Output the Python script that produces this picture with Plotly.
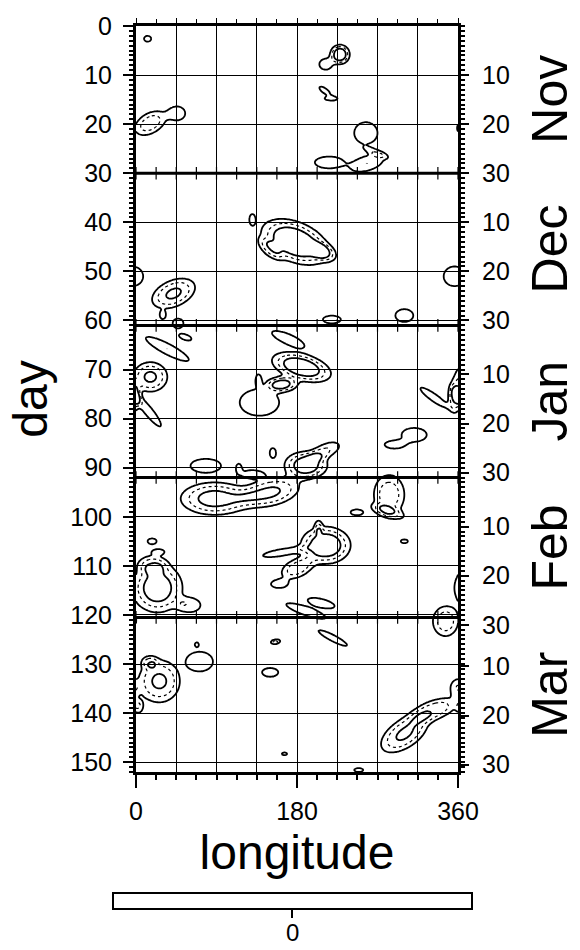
import numpy as np
import plotly.graph_objects as go

# ---- data ----
months = ["Nov", "Dec", "Jan", "Feb", "Mar"]
month_start = [0, 30, 61, 92, 120.5]      # day at which each month begins
day_end = 152
month_day_ticks = [10, 20, 30]
lon_ticks = [0, 180, 360]

# convective blobs: centre lon, centre day, half-extent lon, half-extent day, amplitude, tilt (days/deg)
blob_lon = [13, 16, 46, 228, 212, 211, 218, 257, 268, 216, 258,
            130, 178, 209, 150, 219, 356, 300, 42, 30, 47,
            55, 35, 16, 14, 357, 333, 170, 185, 163, 137, 138, 153, 190, 212, 78, 115, 130, 311, 289,
            88, 150, 283, 282, 247, 300, 212, 180, 162, 160, 204, 18, 25, 24, 60, 18, 190, 207, 346,
            71, 68, 26, 15, 3, 158, 150, 220, 154, 357, 334, 300, 166, 249]
blob_day = [2.6, 19.8, 17.8, 5.8, 7.8, 13.2, 14.8, 21.8, 25.8, 27.8, 28.0,
            39.4, 44.0, 46.0, 45.5, 59.8, 51.0, 59.0, 54.5, 59.0, 60.6,
            63.4, 65.8, 71.5, 78.5, 75.5, 75.7, 63.8, 69.5, 73.0, 72.0, 76.7, 87.0, 89.5, 86.5, 89.6, 90.0, 91.3, 83.3, 85.3,
            96.3, 95.0, 95.5, 99.0, 99.1, 105.0, 105.8, 110.5, 107.3, 113.7, 102.0, 105.0, 107.1, 114.5, 118.0, 109.7, 119.2, 117.6, 121.3,
            129.5, 126.0, 133.5, 129.6, 138.8, 125.3, 131.7, 124.7, 125.6, 135.0, 139.3, 144.2, 148.3, 151.6]
blob_wlon = [4, 17, 9, 11, 7, 6, 7, 13, 10, 16, 18,
             3, 38, 12, 10, 10, 12, 10, 24, 3, 6,
             7, 24, 19, 14, 8, 15, 18, 33, 17, 3, 22, 3.5, 24, 15, 17, 3, 12, 14, 11,
             38, 32, 17, 15, 7, 4, 28, 17, 20, 9, 3, 5, 6, 28, 12, 13, 22, 15, 14,
             15, 2, 23, 7, 4, 3, 9, 16, 3, 5, 24, 26, 3, 5]
blob_wday = [0.6, 2.2, 1.4, 2.0, 1.1, 0.6, 0.4, 2.2, 0.6, 1.2, 1.5,
             1.0, 4.3, 1.4, 1.3, 0.8, 2.0, 1.3, 2.8, 0.7, 1.0,
             0.6, 1.2, 3.0, 1.3, 3.0, 0.9, 1.1, 2.8, 1.5, 1.0, 2.7, 1.0, 2.8, 1.4, 1.4, 0.8, 0.8, 1.4, 0.8,
             3.3, 2.8, 4.0, 0.9, 0.6, 0.4, 3.8, 1.9, 0.7, 0.8, 1.0, 0.6, 0.5, 5.0, 1.4, 1.5, 0.9, 0.9, 3.0,
             2.0, 0.4, 4.3, 1.0, 1.0, 0.3, 0.9, 0.7, 0.3, 1.3, 2.0, 3.2, 0.3, 0.4]
blob_amp = [1.3, 2.2, 1.5, 3.2, 1.4, 1.3, 1.3, 1.6, 1.4, 1.7, 1.8,
            1.3, 3.4, 1.8, 1.5, 1.4, 1.8, 1.5, 2.6, 1.3, 1.5,
            1.3, 1.8, 2.6, 1.6, 2.6, 1.5, 1.5, 3.2, 2.8, 1.3, 1.7, 1.3, 3.0, 1.8, 1.6, 1.3, 1.4, 1.6, 1.4,
            2.8, 2.6, 2.2, 1.5, 1.3, 1.3, 3.2, 2.2, 1.4, 1.4, 1.3, 1.3, 1.3, 3.0, 1.6, 1.6, 1.5, 1.5, 2.2,
            1.7, 1.2, 2.6, 1.5, 1.4, 1.2, 1.4, 1.6, 1.2, 1.4, 2.2, 2.6, 1.2, 1.3]
blob_tilt = [0, -0.06, 0, 0, 0, 0.1, 0, 0, 0.06, 0, -0.04,
             0, 0.05, 0.05, 0.1, 0, 0, 0, -0.05, 0, 0,
             0.05, 0.09, 0, 0.2, 0, 0.12, 0.07, 0.04, 0, 0, 0, 0, 0, -0.06, 0, 0, 0, 0, 0,
             0, -0.03, 0, 0.05, 0, 0, 0, -0.05, -0.03, 0, 0, 0, 0, 0, 0, 0, 0.06, 0.04, 0,
             0, 0, 0, 0, 0, 0, 0, 0.09, 0, 0, -0.05, -0.08, 0, 0]

contour_outer = 1.0
contour_dash = 1.8
contour_inner = 2.5
boundary_tick_step = 22.5

# ---- build the field on a grid ----
lon = np.arange(0, 360.01, 1.5)
day = np.arange(0, day_end + 0.01, 0.25)
LON, DAY = np.meshgrid(lon, day)
field = np.zeros_like(LON)
for l0, d0, wl, wd, a, k in zip(blob_lon, blob_day, blob_wlon, blob_wday, blob_amp, blob_tilt):
    dx = ((LON - l0 + 180) % 360) - 180
    dy = (DAY - d0) - k * dx
    q = (dx / wl) ** 2 + (dy / wd) ** 2
    field += a * np.exp(-np.log(a) * q ** 1.5)
field = field.astype(np.float32)

FONT = "Liberation Sans, Arial, Helvetica, sans-serif"

fig = go.Figure()
fig.add_trace(go.Heatmap(x=lon[::4], y=day[::4], z=-field[::4, ::4], zmin=-3, zmax=3,
                         xaxis="x2", yaxis="y2",
                         colorscale=[[0, "white"], [1, "white"]], opacity=0, hoverinfo="skip",
                         showscale=True,
                         colorbar=dict(orientation="h", x=0.486, xanchor="center", lenmode="pixels", len=359,
                                       thickness=16, y=-0.162, yanchor="top", outlinewidth=2, outlinecolor="black",
                                       tickvals=[0], showticklabels=False, ticks="outside", ticklen=8, tickwidth=2,
                                       tickcolor="black", xpad=0, ypad=0)))
fig.add_trace(go.Contour(x=lon, y=day, z=field, showscale=False, hoverinfo="skip",
                         contours=dict(start=contour_dash, end=contour_dash, size=1, coloring="none"),
                         line=dict(color="black", width=1.2, dash="3px,3px")))
fig.add_trace(go.Contour(x=lon, y=day, z=field, showscale=False, hoverinfo="skip",
                         contours=dict(start=contour_outer, end=contour_inner, size=contour_inner - contour_outer,
                                       coloring="none"),
                         line=dict(color="black", width=1.8)))

# ticks along the inner month boundaries
bt_lon = np.arange(0, 360.01, boundary_tick_step)
bx, by = [], []
for b in month_start[1:]:
    bx += list(bt_lon)
    by += [b] * len(bt_lon)
fig.add_trace(go.Scatter(x=bx, y=by, mode="markers", hoverinfo="skip",
                         marker=dict(symbol="line-ns", size=9, line=dict(color="black", width=1.2))))

# month boundaries
for b in month_start[1:]:
    fig.add_shape(type="line", xref="paper", x0=0, x1=1, yref="y", y0=b, y1=b,
                  line=dict(color="black", width=3))

right_vals, right_text = [], []
for s in month_start:
    for d in month_day_ticks:
        right_vals.append(s + d)
        right_text.append(str(d))

ends = month_start[1:] + [day_end]
for m, s, e in zip(months, month_start, ends):
    fig.add_annotation(text=m, xref="paper", x=1.286, yref="y", y=(s + e) / 2, showarrow=False,
                       textangle=-90, xanchor="center", yanchor="middle",
                       font=dict(size=50, color="black", family=FONT))

fig.add_annotation(text="0", xref="paper", x=0.486, yref="paper", y=-0.2155, showarrow=False,
                   xanchor="center", yanchor="middle", font=dict(size=24, color="black", family=FONT))

fig.update_layout(
    width=580, height=950, margin=dict(l=136, r=122, t=20, b=178),
    paper_bgcolor="white", plot_bgcolor="white", showlegend=False,
    font=dict(family=FONT, color="black"),
    xaxis=dict(range=[0, 360], tickvals=lon_ticks, ticks="outside", ticklen=13, tickwidth=1.5, tickcolor="black",
               showgrid=False, zeroline=False, showline=True, linewidth=2.5, linecolor="black",
               tickfont=dict(size=25), ticklabelstandoff=2,
               minor=dict(tickmode="linear", tick0=0, dtick=22.5, ticks="outside", ticklen=5, tickcolor="black",
                          showgrid=False),
               title=dict(text="longitude", font=dict(size=48), standoff=12)),
    xaxis2=dict(range=[0, 360], overlaying="x", side="top", anchor="y", dtick=45, tick0=0,
                showgrid=True, gridcolor="black", gridwidth=1.2, showticklabels=False,
                ticks="outside", ticklen=5, tickcolor="black", zeroline=False,
                showline=True, linewidth=2.5, linecolor="black",
                minor=dict(tickmode="linear", tick0=0, dtick=22.5, ticks="outside", ticklen=4, tickcolor="black")),
    yaxis=dict(range=[day_end, 0], dtick=10, tick0=0, ticks="outside", ticklen=10, tickwidth=1.5, tickcolor="black",
               showgrid=True, gridcolor="black", gridwidth=1.2, zeroline=False,
               showline=True, linewidth=3, linecolor="black", tickfont=dict(size=25), ticklabelstandoff=6,
               minor=dict(tickmode="linear", tick0=0, dtick=1, ticks="outside", ticklen=4, tickcolor="black",
                          showgrid=False),
               title=dict(text="day", font=dict(size=48), standoff=8)),
    yaxis2=dict(range=[day_end, 0], overlaying="y", side="right", anchor="x", tickvals=right_vals, ticktext=right_text,
                ticks="outside", ticklen=8, tickwidth=1.5, tickcolor="black", showgrid=False, zeroline=False,
                showline=True, linewidth=3, linecolor="black", tickfont=dict(size=25), ticklabelstandoff=8,
                minor=dict(tickmode="linear", tick0=0, dtick=1, ticks="outside", ticklen=4, tickcolor="black")),
)
fig.write_html("out.html")
